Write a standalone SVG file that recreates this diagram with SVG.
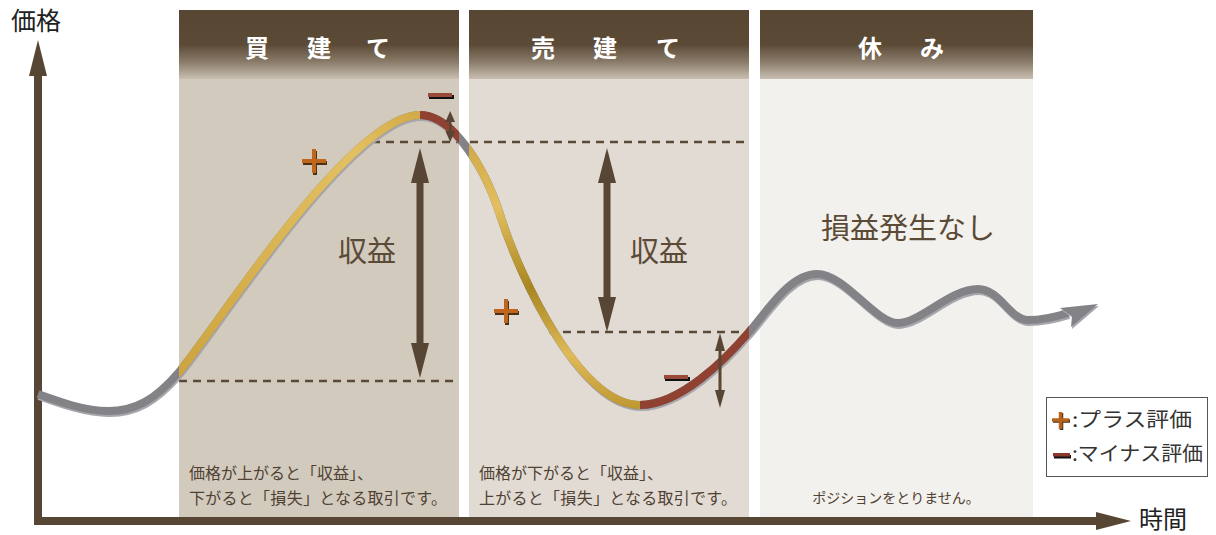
<svg xmlns="http://www.w3.org/2000/svg" width="1216" height="535" viewBox="0 0 1216 535">
<defs>
<style>
.jp{font-family:"Noto Sans CJK JP","Noto Sans CJK SC",sans-serif}
.hd{font-size:24px;font-weight:bold;fill:#ffffff;text-anchor:middle}
.big{font-size:29px;fill:#5a4a36;text-anchor:middle}
.note{font-size:16px;fill:#4f4233}
.dash{stroke:#5a4936;stroke-width:2.5;stroke-dasharray:8 6;fill:none}
.brown{fill:#574633}
.crv{fill:none;stroke-width:8}
</style>
<linearGradient id="hdr" x1="0" y1="0" x2="0" y2="1">
<stop offset="0" stop-color="#574632"/>
<stop offset="0.5" stop-color="#5b4a36"/>
<stop offset="0.75" stop-color="#8a7b69"/>
<stop offset="1" stop-color="#c9bfb2"/>
</linearGradient>
<linearGradient id="gold1" gradientUnits="userSpaceOnUse" x1="179" y1="372" x2="420" y2="115">
<stop offset="0" stop-color="#cda43e"/>
<stop offset="0.5" stop-color="#dbb655"/>
<stop offset="0.8" stop-color="#e3c062"/>
<stop offset="1" stop-color="#d2ab48"/>
</linearGradient>
<linearGradient id="gold2" gradientUnits="userSpaceOnUse" x1="0" y1="140" x2="0" y2="408">
<stop offset="0" stop-color="#cfa845"/>
<stop offset="0.25" stop-color="#e3bf5f"/>
<stop offset="0.55" stop-color="#a9861f"/>
<stop offset="0.8" stop-color="#dfba58"/>
<stop offset="1" stop-color="#bf9833"/>
</linearGradient>
<clipPath id="cg1"><rect x="179" y="0" width="241" height="535"/></clipPath>
<clipPath id="cr1"><rect x="420" y="0" width="39" height="535"/></clipPath>
<clipPath id="cg2"><rect x="469" y="0" width="171" height="535"/></clipPath>
<clipPath id="cr2"><rect x="640" y="0" width="109" height="535"/></clipPath>
<path id="curve" d="M38,394 C60,402 85,411 108,411 C135,411 155,400 179,372 C215,330 350,115 420,115 C452,115 484,165 500,215 C520,278 580,405 640,405 C680,405 725,360 749,332 C768,310 790,274 817,274 C845,274 875,323 898,323 C920,323 950,289 978,289 C1000,289 1010,320 1028,320 C1040,320 1052,318 1068,313"/>
<g id="plus"><path d="M-12,0 H12 M0,-12 V12" stroke-width="4" fill="none"/></g>
</defs>

<rect width="1216" height="535" fill="#ffffff"/>

<g id="panel-buy">
<rect x="179" y="78" width="280" height="440" fill="#d3cabe"/>
<rect x="179" y="10" width="280" height="69" fill="url(#hdr)"/>
<text class="jp hd" x="257 319 378" y="57">買建て</text>
</g>
<g id="panel-sell">
<rect x="469" y="78" width="280" height="440" fill="#e2dbd4"/>
<rect x="469" y="10" width="280" height="69" fill="url(#hdr)"/>
<text class="jp hd" x="543 605 668" y="57">売建て</text>
</g>
<g id="panel-rest">
<rect x="760" y="78" width="273" height="440" fill="#f3f1ed"/>
<rect x="760" y="10" width="273" height="69" fill="url(#hdr)"/>
<text class="jp hd" x="870 932" y="57">休み</text>
</g>

<g id="axes">
<rect x="34" y="74" width="8" height="451" class="brown"/>
<polygon points="38,40 47,76 29,76" class="brown"/>
<rect x="34" y="517" width="1066" height="8" class="brown"/>
<polygon points="1131,521 1096,512 1096,530" class="brown"/>
<text class="jp" x="11" y="30" font-size="25" fill="#222">価格</text>
<text class="jp" x="1139" y="528" font-size="24" fill="#222">時間</text>
</g>

<g id="connectors">
<line class="dash" x1="372" y1="142" x2="749" y2="142"/>
<line class="dash" x1="179" y1="381" x2="459" y2="381"/>
<line class="dash" x1="549" y1="332" x2="749" y2="332"/>
<use href="#curve" class="crv" stroke="#a6a7ac" transform="translate(1,2)"/>
<use href="#curve" class="crv" stroke="#838387"/>
<use href="#curve" class="crv" stroke="url(#gold1)" clip-path="url(#cg1)"/>
<use href="#curve" class="crv" stroke="#8f4231" clip-path="url(#cr1)"/>
<use href="#curve" class="crv" stroke="url(#gold2)" clip-path="url(#cg2)"/>
<use href="#curve" class="crv" stroke="#8f4231" clip-path="url(#cr2)"/>
<polygon points="1098,304 1071,327 1072,316 1060,308" fill="#a6a7ac" transform="translate(1,2)"/>
<polygon points="1098,304 1071,327 1072,316 1060,308" fill="#838387"/>
<rect x="416.5" y="182" width="7" height="162" class="brown"/>
<polygon points="420,148 429,183 411,183" class="brown"/>
<polygon points="420,378 429,343 411,343" class="brown"/>
<rect x="603.5" y="182" width="7" height="116" class="brown"/>
<polygon points="607,148 616,183 598,183" class="brown"/>
<polygon points="607,332 616,297 598,297" class="brown"/>
<rect x="449" y="120" width="2.5" height="13" class="brown"/>
<polygon points="450.2,111 455,122 445.4,122" class="brown"/>
<polygon points="450.2,142 455,131 445.4,131" class="brown"/>
<rect x="718.5" y="348" width="3" height="46" class="brown"/>
<polygon points="720,333 725,351 715,351" class="brown"/>
<polygon points="720,408 725,390 715,390" class="brown"/>
</g>

<g id="marks">
<use href="#plus" x="314" y="161" stroke="#4a3218" transform="translate(1,2)"/>
<use href="#plus" x="314" y="161" stroke="#c0651c"/>
<use href="#plus" x="506" y="311" stroke="#4a3218" transform="translate(1,2)"/>
<use href="#plus" x="506" y="311" stroke="#c0651c"/>
<rect x="429" y="95" width="25" height="4" fill="#111"/>
<rect x="428" y="93" width="24" height="4" fill="#9a4a38"/>
<rect x="665" y="377" width="25" height="4" fill="#111"/>
<rect x="664" y="375" width="24" height="4" fill="#9a4a38"/>
</g>

<g id="labels">
<text class="jp big" x="367" y="262">収益</text>
<text class="jp big" x="659" y="262">収益</text>
<text class="jp big" x="908" y="239">損益発生なし</text>
<text class="jp note" x="189" y="479">価格が上がると「収益」、</text>
<text class="jp note" x="189" y="504" textLength="258">下がると「損失」となる取引です。</text>
<text class="jp note" x="479" y="479">価格が下がると「収益」、</text>
<text class="jp note" x="479" y="504" textLength="258">上がると「損失」となる取引です。</text>
<text class="jp" x="896" y="503" font-size="14" fill="#4f4233" text-anchor="middle">ポジションをとりません。</text>
</g>

<g id="legend">
<rect x="1046.5" y="397.5" width="161" height="79" fill="#ffffff" stroke="#555" stroke-width="1"/>
<path d="M1052,420 H1069 M1060.5,412 V429" stroke="#4a3218" stroke-width="3.5" transform="translate(1,1)"/>
<path d="M1052,420 H1069 M1060.5,412 V429" stroke="#b8641c" stroke-width="3.5"/>
<rect x="1054" y="455" width="17" height="3.5" fill="#111"/>
<rect x="1053" y="453" width="17" height="3.5" fill="#8a3a2a"/>
<text class="jp" x="1072" y="427" font-size="20" fill="#333" textLength="120" lengthAdjust="spacingAndGlyphs">:プラス評価</text>
<text class="jp" x="1072" y="461" font-size="20" fill="#333" textLength="131" lengthAdjust="spacingAndGlyphs">:マイナス評価</text>
</g>
</svg>
